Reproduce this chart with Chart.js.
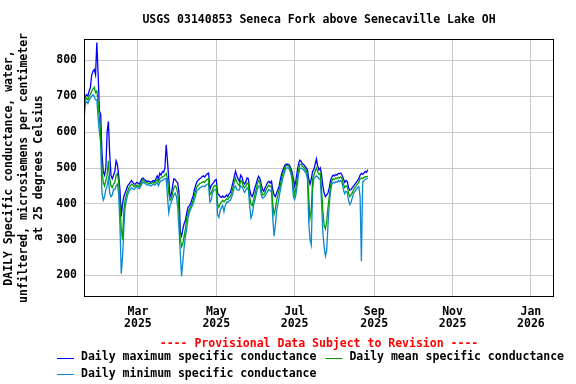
<!DOCTYPE html>
<html>
<head>
<meta charset="utf-8">
<script src="https://cdn.jsdelivr.net/npm/chart.js@4/dist/chart.umd.min.js"></script>
<style>
  html, body { margin: 0; padding: 0; background: #fff; }
  canvas { display: block; }
</style>
</head>
<body>
<canvas id="usgsChart" width="576" height="384"></canvas>
<script>
// first data day and axis limits
const startDate = '2025-01-18'
const axisEndDate = '2026-01-19'

const chartTitle = 'USGS 03140853 Seneca Fork above Senecaville Lake OH'
const tickDates = ['2025-03-01', '2025-05-01', '2025-07-01', '2025-09-01', '2025-11-01', '2026-01-01']
const tickMonths = ['Mar', 'May', 'Jul', 'Sep', 'Nov', 'Jan']
const tickYears = ['2025', '2025', '2025', '2025', '2025', '2026']
const yTicks = [200, 300, 400, 500, 600, 700, 800]

// daily values, microsiemens/cm, one per day from startDate
const dailyMax = [
  680, 700, 705, 700, 715, 725, 760, 770, 775, 760,
  850, 760, 660, 650, 540, 490, 480, 500, 600, 630,
  540, 480, 470, 480, 490, 520, 510, 480, 440, 365,
  400, 420, 430, 440, 450, 455, 460, 465, 460, 455,
  455, 460, 458, 455, 462, 470, 472, 468, 465, 462,
  464, 462, 460, 462, 465, 463, 470, 478, 470, 485,
  480, 490, 488, 500, 565, 520, 470, 420, 425, 450,
  470, 468, 462, 458, 430, 320, 310, 330, 345, 355,
  375, 390, 395, 400, 412, 422, 440, 452, 462, 466,
  470, 472, 476, 478, 475, 480, 484, 486, 440, 450,
  455, 460, 466, 468, 430, 425, 420, 418, 422, 418,
  420, 425, 420, 428, 432, 445, 460, 475, 491, 478,
  470, 462, 480, 475, 460, 455, 462, 472, 470, 440,
  425, 420, 430, 445, 455, 468, 477, 470, 455, 440,
  435, 445, 452, 460, 463, 458, 463, 440, 425, 420,
  430, 440, 450, 470, 485, 495, 505, 510, 511, 510,
  508, 500, 490, 470, 450, 465, 490, 510, 522, 519,
  512, 510, 505, 500, 495, 470, 455, 470, 490, 496,
  510, 525, 505, 495, 500, 480, 450, 430, 420, 425,
  430, 445, 465, 475, 480, 478, 482, 480, 485, 484,
  486, 480, 470, 460, 465, 462, 445, 438, 440, 445,
  450, 455, 460, 465, 470, 480, 485, 482, 486, 490,
  488, 495
]
const dailyMean = [
  650, 690, 695, 690, 700, 705, 715, 720, 725, 710,
  715, 680, 640, 590, 490, 460, 450, 465, 480, 520,
  470, 450, 445, 455, 460, 480, 485, 460, 400, 330,
  300, 380, 410, 425, 435, 445, 450, 455, 452, 448,
  450, 452, 450, 448, 455, 462, 468, 462, 460, 458,
  458, 457, 456, 458, 460, 458, 463, 468, 462, 470,
  472, 475, 476, 480, 485, 470, 430, 410, 415, 430,
  445, 450, 445, 430, 380, 300, 280, 290, 310, 330,
  360, 375, 385, 392, 400, 410, 425, 438, 448, 452,
  456, 458, 460, 462, 460, 465, 468, 470, 425, 430,
  440, 448, 452, 450, 400, 390, 400, 405, 410, 406,
  410, 414, 412, 418, 420, 430, 445, 460, 472, 460,
  455, 450, 465, 462, 450, 445, 450, 458, 455, 420,
  400, 395, 410, 425, 440, 455, 465, 460, 440, 425,
  425, 432, 440, 448, 452, 448, 450, 400, 370, 385,
  410, 425, 438, 455, 472, 485, 495, 505, 507, 506,
  503, 492, 480, 445, 425, 445, 470, 495, 510, 510,
  505, 502, 498, 492, 485, 420, 360, 380, 470, 480,
  490, 500, 490, 482, 485, 440, 380, 340, 330, 350,
  390, 420, 450, 465, 470, 468, 472, 470, 474, 472,
  475, 470, 455, 445, 450, 448, 430, 420, 425, 432,
  440, 445, 450, 455, 460, 470, 472, 470, 474, 476,
  475, 478
]
const dailyMin = [
  630, 680, 685, 680, 690, 695, 700, 705, 700, 690,
  690, 640, 600, 570, 430, 410, 420, 440, 450, 470,
  430, 420, 425, 440, 440, 450, 455, 430, 340, 205,
  250, 330, 390, 410, 425, 435, 440, 445, 442, 440,
  445, 448, 445, 442, 448, 455, 460, 458, 455, 452,
  454, 452, 450, 452, 455, 452, 455, 460, 450, 460,
  465, 465, 468, 470, 470, 420, 375, 395, 405, 415,
  425, 430, 420, 390, 330, 260, 198, 240, 280, 310,
  330, 360, 375, 385, 392, 400, 412, 425, 438, 440,
  444, 446, 448, 450, 448, 452, 455, 455, 405, 410,
  430, 438, 440, 438, 370, 362, 380, 390, 395, 378,
  395, 405, 404, 408, 410, 418, 430, 445, 450, 440,
  438, 440, 450, 448, 440, 432, 438, 445, 440, 395,
  360, 370, 395, 410, 425, 440, 450, 448, 425, 415,
  418, 422, 428, 435, 440, 436, 438, 360, 310, 340,
  380, 400, 420, 440, 458, 475, 485, 498, 500, 500,
  496, 485, 470, 420, 412, 425, 450, 480, 498, 500,
  498, 495, 490, 485, 470, 350, 300, 285, 440, 470,
  475, 478, 475, 470, 470, 400, 320, 280, 254, 270,
  340, 400, 435, 455, 460, 458, 462, 460, 465, 462,
  465, 458, 440, 428, 435, 432, 410, 398, 405, 418,
  430, 435, 440, 445, 448, 420, 240, 460, 465, 468,
  470, 472
]

const FONT = 'DejaVu Sans Mono'
const DAY = 86400000

function dayOf(dateStr) {
  return Math.round((Date.parse(dateStr) - Date.parse(startDate)) / DAY)
}

function toPoints(values) {
  return values.map((v, i) => ({ x: i, y: v }))
}

const tickDays = tickDates.map(dayOf)

// title over the plot, box round it, provisional note and legend under it
const usgsDecor = {
  id: 'usgsDecor',
  afterDatasetsDraw(chart) {
    const { ctx, chartArea: a } = chart
    ctx.save()
    ctx.strokeStyle = '#000'
    ctx.lineWidth = 1
    ctx.strokeRect(Math.round(a.left) + 0.5, Math.round(a.top) + 0.5,
      Math.round(a.right - a.left) - 1, Math.round(a.bottom - a.top) - 1)
    ctx.restore()
  },
  afterDraw(chart) {
    const { ctx, chartArea: a } = chart
    const mid = (a.left + a.right) / 2
    ctx.save()
    ctx.font = 'bold 11.5px "' + FONT + '"'
    ctx.textBaseline = 'middle'
    ctx.textAlign = 'center'

    ctx.fillStyle = '#000'
    ctx.fillText(chartTitle, mid, 20.5)

    ctx.fillStyle = '#ff0000'
    ctx.fillText('---- Provisional Data Subject to Revision ----', mid, 344)

    ctx.textAlign = 'left'
    let x = 57
    let y = 357.5
    chart.data.datasets.forEach(ds => {
      const w = 17 + 7 + ctx.measureText(ds.label).width
      if (x + w > chart.width) {
        x = 57
        y += 16.5
      }
      ctx.strokeStyle = ds.borderColor
      ctx.lineWidth = 1
      ctx.beginPath()
      ctx.moveTo(x, Math.round(y) + 0.5)
      ctx.lineTo(x + 17, Math.round(y) + 0.5)
      ctx.stroke()
      ctx.fillStyle = '#000'
      ctx.fillText(ds.label, x + 24, y)
      x += w + 9
    })
    ctx.restore()
  }
}

new Chart(document.getElementById('usgsChart'), {
  type: 'line',
  data: {
    datasets: [
      {
        label: 'Daily maximum specific conductance',
        data: toPoints(dailyMax),
        borderColor: '#0000ff',
        borderWidth: 1.3,
        pointRadius: 0,
        order: 1
      },
      {
        label: 'Daily mean specific conductance',
        data: toPoints(dailyMean),
        borderColor: '#00a000',
        borderWidth: 1.3,
        pointRadius: 0,
        order: 0
      },
      {
        label: 'Daily minimum specific conductance',
        data: toPoints(dailyMin),
        borderColor: '#0a88d2',
        borderWidth: 1.3,
        pointRadius: 0,
        order: 2
      }
    ]
  },
  options: {
    responsive: false,
    animation: false,
    layout: { padding: { left: 0, right: 22, top: 39, bottom: 0 } },
    plugins: {
      legend: { display: false },
      tooltip: { enabled: false },
      title: { display: false }
    },
    scales: {
      x: {
        type: 'linear',
        min: 0,
        max: dayOf(axisEndDate),
        afterBuildTicks: scale => {
          scale.ticks = tickDays.map(v => ({ value: v }))
        },
        afterFit: scale => {
          scale.height = 87
        },
        grid: { color: '#c8c8c8', lineWidth: 1, drawTicks: false },
        border: { display: false },
        ticks: {
          autoSkip: false,
          maxRotation: 0,
          padding: 9,
          color: '#000',
          font: { family: FONT, size: 11.5, weight: 'bold', lineHeight: '12px' },
          callback: value => {
            const i = tickDays.indexOf(value)
            return i < 0 ? '' : [tickMonths[i], tickYears[i]]
          }
        }
      },
      y: {
        min: 140,
        max: 860,
        afterBuildTicks: scale => {
          scale.ticks = yTicks.map(v => ({ value: v }))
        },
        afterFit: scale => {
          scale.width = 84
        },
        grid: { color: '#c8c8c8', lineWidth: 1, drawTicks: false },
        border: { display: false },
        ticks: {
          padding: 7,
          color: '#000',
          font: { family: FONT, size: 11.5, weight: 'bold' }
        },
        title: {
          display: true,
          text: [
            'DAILY Specific conductance, water,',
            'unfiltered, microsiemens per centimeter',
            'at 25 degrees Celsius'
          ],
          color: '#000',
          font: { family: FONT, size: 11.5, weight: 'bold', lineHeight: '15px' },
          padding: { top: 1.5, bottom: 0 }
        }
      }
    }
  },
  plugins: [usgsDecor]
})
</script>
</body>
</html>
